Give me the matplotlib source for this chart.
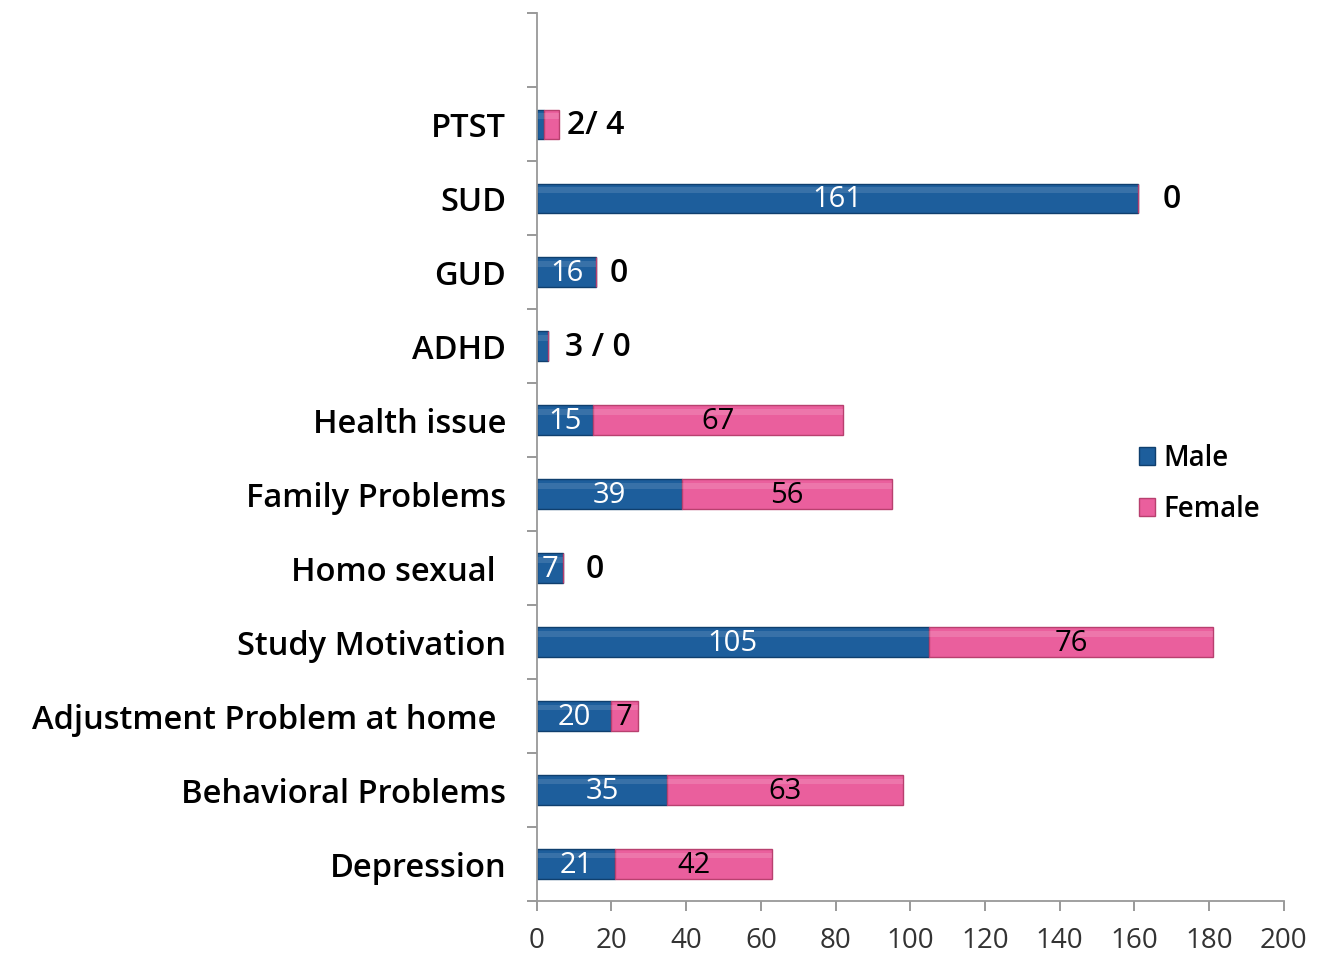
import numpy as np
import matplotlib.pyplot as plt
import matplotlib.transforms as mtransforms
from matplotlib import font_manager

categories = ['Depression', 'Behavioral Problems', 'Adjustment Problem at home',
              'Study Motivation', 'Homo sexual', 'Family Problems', 'Health issue',
              'ADHD', 'GUD', 'SUD', 'PTST']
male = [21, 35, 20, 105, 7, 39, 15, 3, 16, 161, 2]
female = [42, 63, 7, 76, 0, 56, 67, 0, 0, 0, 4]

# labels drawn inside the bars (None = no label inside)
male_inside = ['21', '35', '20', '105', '7', '39', '15', None, '16', '161', None]
female_inside = ['42', '63', '7', '76', None, '56', '67', None, None, None, None]
# labels placed after the bar end
outside = [None, None, None, None, '0', None, None, '3 / 0', '0', '0', '2/ 4']
outside_gap = [0, 0, 0, 0, 6.0, 0, 0, 4.5, 3.5, 6.5, 2]

MALE_C = '#1d5e9c'
FEMALE_C = '#ea5f9d'

names = {f.name for f in font_manager.fontManager.ttflist}
NARROW = 'Liberation Sans Narrow' if 'Liberation Sans Narrow' in names else 'Open Sans'
WIDE = 'Open Sans'

fig = plt.figure(figsize=(13.25, 9.56), dpi=100)
ax = fig.add_axes([0.405, 0.0575, 0.564, 0.9285])

y = np.arange(len(categories))
h = 0.4
ax.barh(y, male, height=h, color=MALE_C, edgecolor='#0f3f6e', linewidth=1.0, label='Male')
ax.barh(y, female, height=h, left=male, color=FEMALE_C, edgecolor='#b8406f',
        linewidth=1.0, label='Female')
# light sheen along the top of the bars
ax.barh(y + h * 0.28, male, height=h * 0.18, color='white', alpha=0.12, linewidth=0)
ax.barh(y + h * 0.28, female, height=h * 0.18, left=male, color='white', alpha=0.15,
        linewidth=0)

for i in range(len(categories)):
    if male_inside[i]:
        ax.text(male[i] / 2, y[i] - 0.02, male_inside[i], ha='center', va='center',
                color='white', fontsize=21, family=NARROW)
    if female_inside[i]:
        ax.text(male[i] + female[i] / 2, y[i] - 0.02, female_inside[i], ha='center',
                va='center', color='black', fontsize=21, family=NARROW)
    if outside[i]:
        end = male[i] + female[i]
        ax.text(end + outside_gap[i], y[i] - 0.02, outside[i], ha='left', va='center',
                color='black', fontsize=23, family=WIDE, fontweight='semibold')

ax.set_xlim(0, 200)
ax.set_ylim(-0.5, 11.5)
ax.set_xticks(np.arange(0, 201, 20))
ax.set_yticks(y)
ax.set_yticklabels(categories, fontsize=23.5, family=WIDE, fontweight='semibold')
ax.set_yticks(np.arange(-0.5, 12, 1), minor=True)
ax.tick_params(axis='y', which='major', length=0, pad=22)
ax.tick_params(axis='y', which='minor', length=7, color='#888888', width=1.2)
ax.tick_params(axis='x', labelsize=20, length=7, color='#888888', width=1.2, pad=12)
for t in ax.get_xticklabels():
    t.set_family(NARROW)
    t.set_color('#333333')

# two labels sit a little further left in the original
for t in ax.get_yticklabels():
    if t.get_text() in ('Homo sexual', 'Adjustment Problem at home'):
        t.set_transform(t.get_transform() +
                        mtransforms.ScaledTranslation(-0.1, 0, fig.dpi_scale_trans))

for s in ['top', 'right']:
    ax.spines[s].set_visible(False)
for s in ['left', 'bottom']:
    ax.spines[s].set_color('#999999')
    ax.spines[s].set_linewidth(1.3)

ax.legend(loc='center left', bbox_to_anchor=(0.772, 0.47), frameon=False,
          handlelength=0.6, handleheight=0.6, handletextpad=0.3,
          labelspacing=0.8, prop={'family': WIDE, 'size': 20, 'weight': 'semibold'})

fig.savefig('out.png', dpi=100)
